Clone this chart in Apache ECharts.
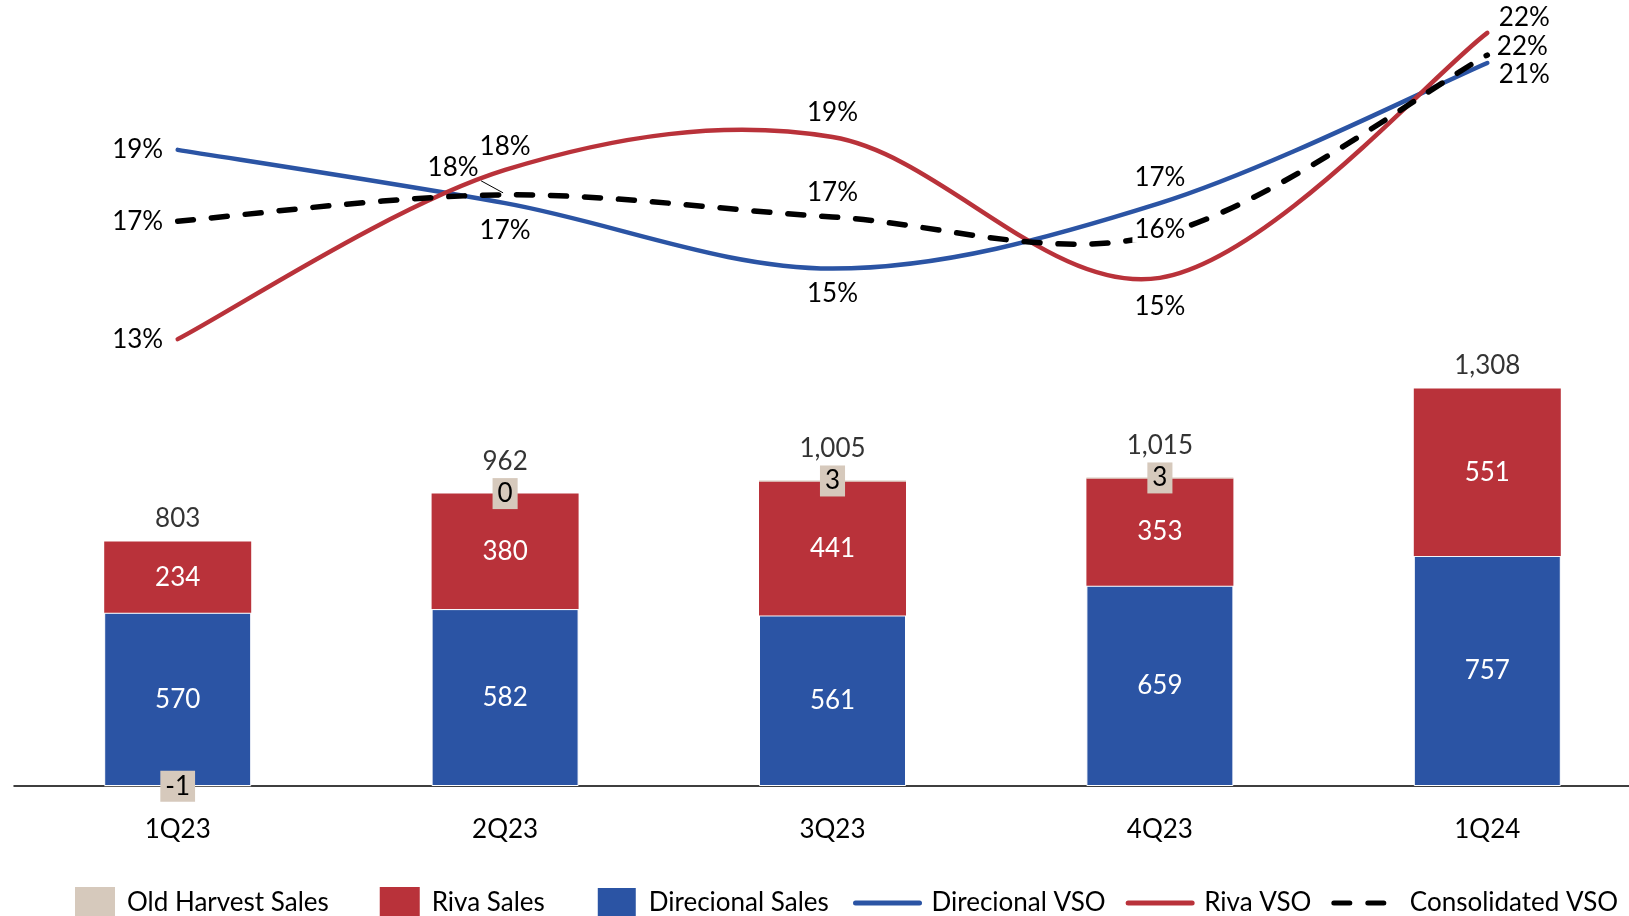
<!DOCTYPE html>
<html lang="en">
<head>
    <meta charset="utf-8">
    <script src="https://cdn.jsdelivr.net/npm/echarts@6/dist/echarts.min.js"></script>
    <style>
        html, body { margin: 0; padding: 0; background: #fff; }
        #main { width: 1629px; height: 916px; }
    </style>
</head>
<body>
<div id="main"></div>
<script type="text/javascript">
    // data
    var quarters = ['1Q23', '2Q23', '3Q23', '4Q23', '1Q24'];
    var oldHarvestSales = [-1, 0, 3, 3, null];
    var rivaSales = [234, 380, 441, 353, 551];
    var direcionalSales = [570, 582, 561, 659, 757];
    var totalSales = [803, 962, 1005, 1015, 1308];
    // VSO in %
    var direcionalVSO = [18.92, 17.38, 15.49, 17.38, 21.43];
    var rivaVSO = [13.45, 18.34, 19.29, 15.22, 22.3];
    var consolidatedVSO = [16.86, 17.62, 16.98, 16.47, 21.66];

    // label placement (px offsets from the point)
    var direcionalOff = [[-40, 0], [0, 27], [0, 25], [0, -26], [37, 12]];
    var rivaOff = [[-40, 0], [0, -23], [0, -24], [0, 29], [37, -15]];
    var consolidatedOff = [[-40, 0], [-52, -27], [0, -24], [0, -5], [35, -8]];

    var FONT = 'Lato';
    var BLUE = '#2B54A4', RED = '#B9323A', BEIGE = '#D6C9BC';

    var chart = echarts.init(document.getElementById('main'));

    function vsoData(values, offs, whiteIdx) {
        return values.map(function (v, i) {
            var lbl = { offset: offs[i] };
            if (i === whiteIdx) {
                lbl.backgroundColor = '#fff';
                lbl.padding = [0, 2];
            }
            return { value: v, label: lbl };
        });
    }

    // line series only carries labels + legend entry, the curve itself is drawn by a custom series
    function lineSeries(name, values, offs, color, width, dash, whiteIdx) {
        return {
            name: name,
            type: 'line',
            yAxisIndex: 1,
            symbol: 'circle',
            symbolSize: 1,
            z: 20,
            itemStyle: { color: 'rgba(0,0,0,0)' },
            lineStyle: { color: color, width: width, type: dash || 'solid', cap: 'round', opacity: 0 },
            label: {
                show: true,
                position: 'inside',
                color: '#000',
                fontFamily: FONT,
                fontSize: 26,
                formatter: function (p) { return Math.round(p.value) + '%'; }
            },
            emphasis: { disabled: true },
            data: vsoData(values, offs, whiteIdx)
        };
    }

    // smoothing like the spreadsheet does it (catmull-rom, no clamping)
    function curveSeries(values, color, width, dash, z) {
        return {
            type: 'custom',
            yAxisIndex: 1,
            z: z,
            silent: true,
            data: values.map(function (v, i) { return [i, v]; }),
            renderItem: function (params, api) {
                if (params.dataIndex !== 0) return;
                var pts = values.map(function (v, i) { return api.coord([i, v]); });
                var d = 'M' + pts[0][0] + ',' + pts[0][1];
                for (var i = 0; i < pts.length - 1; i++) {
                    var p0 = pts[i - 1] || pts[i], p1 = pts[i], p2 = pts[i + 1], p3 = pts[i + 2] || pts[i + 1];
                    var c1x = p1[0] + (p2[0] - p0[0]) / 6, c1y = p1[1] + (p2[1] - p0[1]) / 6;
                    var c2x = p2[0] - (p3[0] - p1[0]) / 6, c2y = p2[1] - (p3[1] - p1[1]) / 6;
                    d += ' C' + c1x + ',' + c1y + ' ' + c2x + ',' + c2y + ' ' + p2[0] + ',' + p2[1];
                }
                return {
                    type: 'path',
                    shape: { pathData: d },
                    style: { fill: 'none', stroke: color, lineWidth: width, lineDash: dash, lineCap: 'round' }
                };
            }
        };
    }

    // small leader line from the shifted 18% label to its point
    var leader = {
        type: 'custom',
        yAxisIndex: 1,
        z: 13,
        silent: true,
        data: [[1, consolidatedVSO[1]]],
        renderItem: function (params, api) {
            var p = api.coord([1, consolidatedVSO[1]]);
            return {
                type: 'line',
                shape: { x1: p[0] - 24, y1: p[1] - 14, x2: p[0] - 2, y2: p[1] - 2 },
                style: { stroke: '#000', lineWidth: 1 }
            };
        }
    };

    var barLabel = {
        show: true,
        position: 'inside',
        color: '#fff',
        fontFamily: FONT,
        fontSize: 26
    };

    var option = {
        animation: false,
        backgroundColor: '#fff',
        grid: { left: 14, width: 1637, top: 10, height: 776, containLabel: false, outerBoundsMode: 'none' },
        legend: [{
            left: 75,
            top: 886,
            padding: 0,
            itemWidth: 40,
            itemHeight: 32,
            itemGap: 51,
            icon: 'rect',
            textStyle: { fontFamily: FONT, fontSize: 26, color: '#000', padding: [0, 0, 0, 7] },
            data: ['Old Harvest Sales', 'Riva Sales', 'Direcional Sales']
        }, {
            left: 853,
            top: 890,
            width: 775,
            padding: 0,
            itemWidth: 64,
            itemHeight: 32,
            itemGap: 20,
            lineStyle: { width: 5, opacity: 1 },
            textStyle: { fontFamily: FONT, fontSize: 26, color: '#000', padding: [0, 0, 0, 7] },
            data: ['Direcional VSO', 'Riva VSO', 'Consolidated VSO']
        }],
        xAxis: {
            type: 'category',
            data: quarters,
            axisLine: { lineStyle: { color: '#000', width: 1.5 } },
            axisTick: { show: false },
            axisLabel: { color: '#000', fontFamily: FONT, fontSize: 26, margin: 31 }
        },
        yAxis: [{
            type: 'value',
            min: 0,
            max: 2553,
            show: false,
            splitLine: { show: false }
        }, {
            type: 'value',
            min: 0.535,
            max: 22.962,
            show: false,
            splitLine: { show: false }
        }],
        series: [{
            name: 'Direcional Sales',
            type: 'bar',
            stack: 'sales',
            barWidth: 147,
            itemStyle: { color: BLUE, borderColor: '#fff', borderWidth: 1 },
            label: barLabel,
            data: direcionalSales
        }, {
            name: 'Riva Sales',
            type: 'bar',
            stack: 'sales',
            barWidth: 147,
            itemStyle: { color: RED },
            label: barLabel,
            data: rivaSales
        }, {
            name: 'Old Harvest Sales',
            type: 'bar',
            stack: 'sales',
            barWidth: 147,
            clip: false,
            z: 5,
            itemStyle: { color: BEIGE },
            label: {
                show: true,
                position: 'inside',
                color: '#000',
                fontFamily: FONT,
                fontSize: 26,
                lineHeight: 31,
                padding: [0, 5],
                backgroundColor: BEIGE
            },
            data: oldHarvestSales
        }, {
            name: 'Total',
            type: 'scatter',
            symbolSize: 0,
            silent: true,
            label: {
                show: true,
                position: 'inside',
                color: '#000',
                fontFamily: FONT,
                fontSize: 26,
                formatter: function (p) { return p.value.toLocaleString('en-US'); }
            },
            data: totalSales.map(function (v, i) {
                var lifted = oldHarvestSales[i] !== null && oldHarvestSales[i] >= 0;
                return { value: v, label: { offset: [0, lifted ? -32 : -23] } };
            })
        },
            curveSeries(direcionalVSO, BLUE, 4.5, null, 10),
            curveSeries(rivaVSO, RED, 4.5, null, 11),
            curveSeries(consolidatedVSO, '#000', 5.5, [16, 18], 12),
            leader,
            lineSeries('Direcional VSO', direcionalVSO, direcionalOff, BLUE, 4.5, null),
            lineSeries('Riva VSO', rivaVSO, rivaOff, RED, 4.5, null),
            lineSeries('Consolidated VSO', consolidatedVSO, consolidatedOff, '#000', 5.5, [16, 18], 3)
        ]
    };

    chart.setOption(option);
</script>
</body>
</html>
